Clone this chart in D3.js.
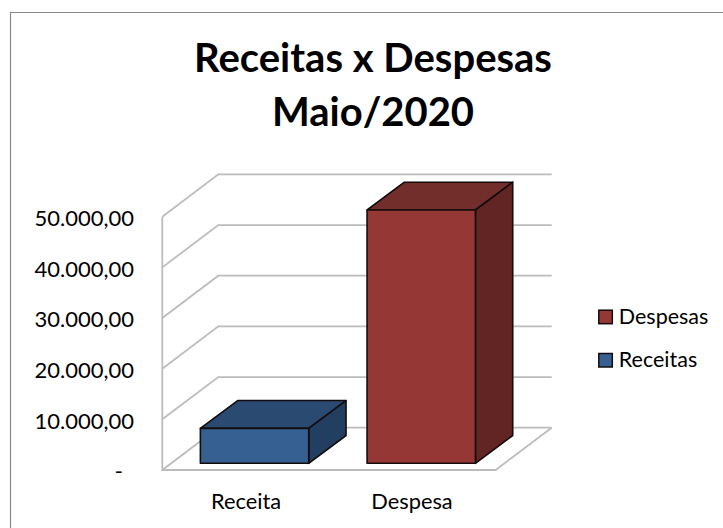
<!DOCTYPE html>
<html><head><meta charset="utf-8">
<script src="https://cdn.jsdelivr.net/npm/d3@7"></script>
<style>html,body{margin:0;padding:0;background:#fff}svg{display:block}text{font-family:Lato,"Open Sans",sans-serif;fill:#000}</style>
</head><body><svg id="c" width="723" height="528"></svg>
<script>
const titleLines = ["Receitas x Despesas", "Maio/2020"];
const categories = ["Receita", "Despesa"];
const seriesNames = ["Receitas", "Despesas"];
const seriesValues = [6900, 50000];
const legendNames = ["Despesas", "Receitas"];
const tickValues = [0, 10000, 20000, 30000, 40000, 50000];
const tickLabels = ["-", "10.000,00", "20.000,00", "30.000,00", "40.000,00", "50.000,00"];
const frontColors = ["#376092", "#953735"];
const topColors = ["#2a4a72", "#722e2b"];
const sideColors = ["#223f62", "#632523"];

const svg = d3.select("#c");
svg.append("path").attr("d","M10.5,528V12.5H723").attr("fill","none").attr("stroke","#8a8a8a").attr("stroke-width",1.2);

const y = d3.scaleLinear().domain([0,50000]).range([470,216.7]);
const x = d3.scaleBand().domain(categories).range([162.3,495.7]).paddingInner(0.35).paddingOuter(0.175);
const depth = {dx:56, dy:-42.3};
const barOff = {dx:8.9, dy:-6.7}, barDepth = {dx:37.3, dy:-27.8};
const grid = "#bcbcbc";

// walls
const g = svg.append("g").attr("fill","none").attr("stroke",grid).attr("stroke-width",1.8);
const xL = x.range()[0], xR = x.range()[1];
tickValues.forEach(v=>{
  g.append("path").attr("d",d3.line()([[xL,y(v)],[xL+depth.dx,y(v)+depth.dy],[xR+depth.dx,y(v)+depth.dy]]));
});
g.append("path").attr("d",d3.line()([[xL,y(50000)],[xL,y(0)],[xR,y(0)],[xR+depth.dx,y(0)+depth.dy]]));

// bars
const bars = svg.selectAll("g.bar").data(categories).join("g").attr("class","bar")
  .attr("stroke","#140c0c").attr("stroke-width",1.6).attr("stroke-linejoin","round");
const line = d3.line();
bars.each(function(c,i){
  const s = d3.select(this), v = seriesValues[i];
  const x0 = x(c)+barOff.dx, x1 = x0+x.bandwidth(), yb = y(0)+barOff.dy, yt = y(v)+barOff.dy;
  const d = barDepth;
  s.append("path").attr("fill",topColors[i]).attr("d",line([[x0,yt],[x0+d.dx,yt+d.dy],[x1+d.dx,yt+d.dy],[x1,yt]])+"Z");
  s.append("path").attr("fill",sideColors[i]).attr("d",line([[x1,yt],[x1+d.dx,yt+d.dy],[x1+d.dx,yb+d.dy],[x1,yb]])+"Z");
  s.append("rect").attr("fill",frontColors[i]).attr("x",x0).attr("y",yt).attr("width",x1-x0).attr("height",yb-yt);
});

// y labels
svg.selectAll("text.yl").data(tickValues).join("text").attr("class","yl")
  .attr("x",v=>v===0?123:134).attr("y",v=>y(v)+9.3).attr("text-anchor","end").attr("font-size",22)
  .text((v,i)=>tickLabels[i]);

// x labels
const xLabelX = [246, 412];
svg.selectAll("text.xl").data(categories).join("text").attr("class","xl")
  .attr("x",(c,i)=>xLabelX[i]).attr("y",509.3).attr("text-anchor","middle").attr("font-size",21.8).text(c=>c);

// title
svg.selectAll("text.t").data(titleLines).join("text").attr("class","t")
  .attr("x",373).attr("y",(t,i)=>71.5+i*54).attr("text-anchor","middle")
  .attr("font-size",40).attr("font-weight",700).text(t=>t);

// legend
const ly = [317.2, 360.5];
const leg = svg.selectAll("g.lg").data(legendNames).join("g").attr("class","lg").attr("transform",(n,i)=>`translate(598.8,${ly[i]})`);
leg.append("rect").attr("x",0).attr("y",-7).attr("width",13.5).attr("height",13.5)
  .attr("fill",n=>frontColors[seriesNames.indexOf(n)]).attr("stroke","#140c0c").attr("stroke-width",1.5);
leg.append("text").attr("x",20).attr("y",6.6).attr("font-size",21.5).text(n=>n);
</script></body></html>
